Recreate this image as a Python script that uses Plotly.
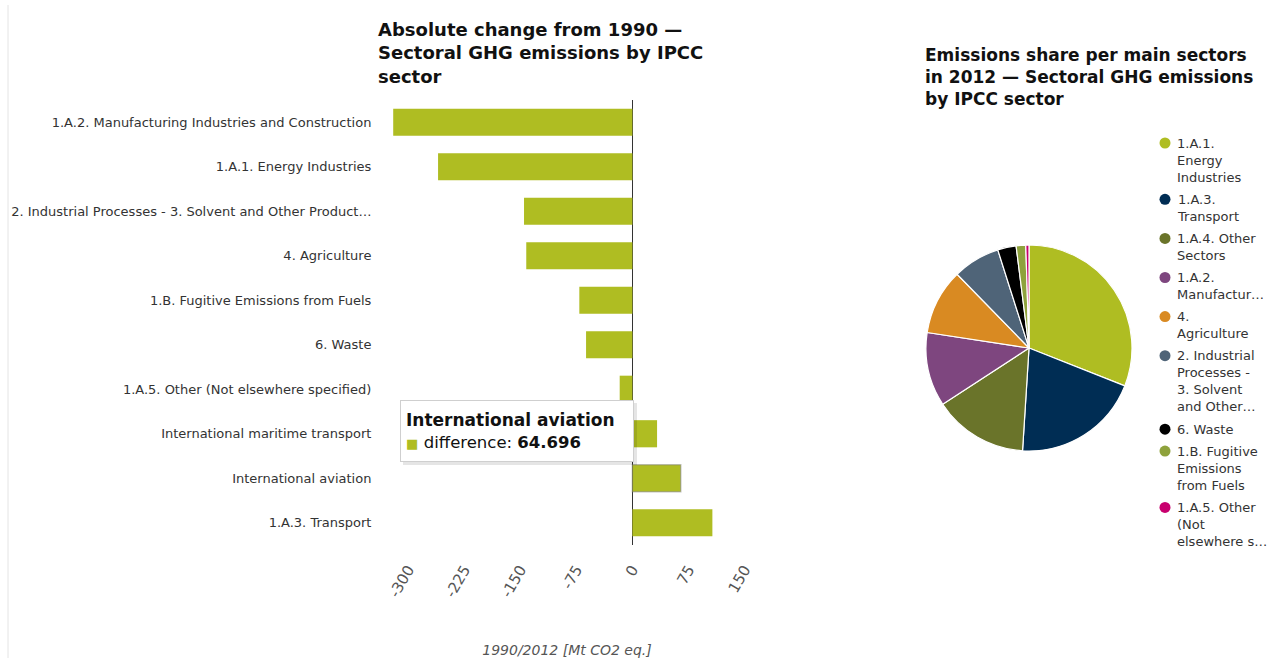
import plotly.graph_objects as go

# ---------------- data ----------------
sectors = [
    "1.A.2. Manufacturing Industries and Construction",
    "1.A.1. Energy Industries",
    "2. Industrial Processes - 3. Solvent and Other Product…",
    "4. Agriculture",
    "1.B. Fugitive Emissions from Fuels",
    "6. Waste",
    "1.A.5. Other (Not elsewhere specified)",
    "International maritime transport",
    "International aviation",
    "1.A.3. Transport",
]
difference = [-320, -260, -145, -142, -71, -62, -17, 33, 64.696, 107]

pie_labels = [
    "1.A.1.<br>Energy<br>Industries",
    "1.A.3.<br>Transport",
    "1.A.4. Other<br>Sectors",
    "1.A.2.<br>Manufactur…",
    "4.<br>Agriculture",
    "2. Industrial<br>Processes -<br>3. Solvent<br>and Other…",
    "6. Waste",
    "1.B. Fugitive<br>Emissions<br>from Fuels",
    "1.A.5. Other<br>(Not<br>elsewhere s…",
]
pie_shares = [31.0, 20.0, 14.8, 11.6, 10.3, 7.4, 2.9, 1.5, 0.5]
pie_colors = ["#afbd22", "#002d54", "#6a742a", "#7e467f", "#d98a22",
              "#4f6478", "#000000", "#8ea23c", "#c8006e"]

x_ticks = [-300, -225, -150, -75, 0, 75, 150]
bar_color = "#afbd22"

W, H = 1267, 658
FONT = "DejaVu Sans"

def px(x):
    return x / W

def py(y):
    return 1 - y / H

fig = go.Figure()

line_colors = ["rgba(0,0,0,0)"] * len(sectors)
line_colors[sectors.index("International aviation")] = "rgba(120,120,120,0.45)"

fig.add_trace(go.Bar(
    x=difference, y=sectors, orientation="h",
    marker=dict(color=bar_color, line=dict(color=line_colors, width=1.5)),
    showlegend=False, width=0.61,
    xaxis="x", yaxis="y",
))

fig.add_trace(go.Pie(
    labels=pie_labels, values=pie_shares, sort=False, direction="clockwise",
    rotation=0, marker=dict(colors=pie_colors, line=dict(color="white", width=1.2)),
    textinfo="none", showlegend=False,
    domain=dict(x=[px(926), px(1132)], y=[py(451), py(245)]),
))

# ---- legend for the pie (circle markers, top-aligned wrapped labels) ----
LEG_TOP = 143.0
LINE_H, ITEM_GAP = 17.2, 4.7
leg_y = []
cur = LEG_TOP
for lab in pie_labels:
    leg_y.append(cur)
    cur += lab.count("<br>") * LINE_H + LINE_H + ITEM_GAP

fig.add_trace(go.Scatter(
    x=[1165] * len(pie_labels), y=leg_y, mode="markers",
    marker=dict(symbol="circle", size=11, color=pie_colors),
    xaxis="x2", yaxis="y2", showlegend=False, hoverinfo="skip",
))
for lab, yy in zip(pie_labels, leg_y):
    fig.add_annotation(
        x=1175, y=yy - 9.5, xref="x2", yref="y2", xanchor="left", yanchor="top",
        text=lab, showarrow=False, align="left",
        font=dict(family=FONT, size=13, color="#333"),
    )

fig.update_layout(
    width=W, height=H,
    margin=dict(l=0, r=0, t=0, b=0, autoexpand=False),
    paper_bgcolor="white", plot_bgcolor="rgba(0,0,0,0)",
    font=dict(family=FONT, size=13, color="#333"),
    showlegend=False,
    xaxis=dict(
        domain=[px(382), px(752)], range=[-335, 160],
        tickvals=x_ticks, ticktext=[str(v) for v in x_ticks],
        tickangle=-60, showgrid=False, zeroline=True, zerolinecolor="#333",
        zerolinewidth=1, showline=False, automargin=False,
        tickfont=dict(size=15, color="#555"),
        ticks="outside", ticklen=9, tickcolor="rgba(0,0,0,0)",
        title=dict(text="<i>1990/2012 [Mt CO2 eq.]</i>",
                   font=dict(size=14, color="#555"), standoff=49),
    ),
    yaxis=dict(
        domain=[py(545), py(100)],
        categoryorder="array", categoryarray=sectors[::-1],
        showgrid=False, showline=False, zeroline=False,
        ticks="outside", ticklen=7, tickcolor="rgba(0,0,0,0)",
        automargin=False, tickfont=dict(size=13, color="#333"),
    ),
    xaxis2=dict(domain=[px(1150), 1.0], range=[1150, W], visible=False, anchor="y2"),
    yaxis2=dict(domain=[0.0, 1.0], range=[H, 0], visible=False, anchor="x2"),
)

# titles
fig.add_annotation(
    x=px(376), y=py(17), xref="paper", yref="paper", xanchor="left", yanchor="top",
    text="<b>Absolute change from 1990 —<br>Sectoral GHG emissions by IPCC<br>sector</b>",
    showarrow=False, align="left", font=dict(family=FONT, size=18, color="#111"),
)
fig.add_annotation(
    x=px(923), y=py(43), xref="paper", yref="paper", xanchor="left", yanchor="top",
    text="<b>Emissions share per main sectors<br>in 2012 — Sectoral GHG emissions<br>by IPCC sector</b>",
    showarrow=False, align="left", font=dict(family=FONT, size=17, color="#111"),
)

# tooltip
fig.add_shape(type="rect", xref="paper", yref="paper",
              x0=px(403), x1=px(637), y0=py(465), y1=py(403),
              fillcolor="rgba(0,0,0,0.10)", line=dict(width=0), layer="above")
fig.add_annotation(
    x=px(400), y=py(400), xref="paper", yref="paper", xanchor="left", yanchor="top",
    text=("<b>International aviation</b><br>"
          f"<span style='color:{bar_color};font-size:13px'>■</span> "
          "<span style='font-size:16.5px'>difference: <b>64.696</b></span>"),
    showarrow=False, align="left", bgcolor="white", bordercolor="#cfcfcf",
    borderwidth=1, borderpad=5, width=222, height=50, valign="middle",
    font=dict(family=FONT, size=17, color="#111"),
)

# faint left frame line
fig.add_shape(type="line", xref="paper", yref="paper",
              x0=px(8), x1=px(8), y0=0, y1=py(5), line=dict(color="#e4e4e4", width=1))

fig.write_html("out.html")
